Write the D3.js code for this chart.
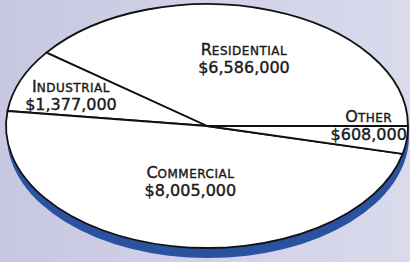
<!DOCTYPE html>
<html>
<head>
<meta charset="utf-8">
<script src="https://cdn.jsdelivr.net/npm/d3@7"></script>
<style>
  html, body { margin: 0; padding: 0; background: #d0d0e6; }
  svg { display: block; }
  .lbl { font-family: "DejaVu Sans", sans-serif; fill: #1a1a1a; stroke: #1a1a1a; stroke-width: 0.4px; text-anchor: middle; }
</style>
</head>
<body>
<svg id="pie" width="410" height="262"></svg>
<script>
"use strict";

//Chart data
var categories = ["Residential", "Industrial", "Commercial", "Other"];
var values = [6586000, 1377000, 8005000, 608000];
var valueLabels = ["$6,586,000", "$1,377,000", "$8,005,000", "$608,000"];

//Label placement: fraction of radius along the slice middle, plus a vertical nudge
var labelRadius = [0.58, 0.73, 0.47, 0.81];
var labelDy = [0, 3, 0, -11];

var svg = d3.select("#pie"),
  width = +svg.attr("width"),
  height = +svg.attr("height");

//Ellipse geometry
var cx = 207, cy = 126, rx = 201, ry = 122, shadowDy = 10;

//Background gradient
var defs = svg.append("defs");
var grad = defs.append("linearGradient").attr("id", "bg").attr("x1", 0).attr("x2", 1).attr("y1", 0).attr("y2", 0);
grad.append("stop").attr("offset", "0%").attr("stop-color", "#c7c7e1");
grad.append("stop").attr("offset", "100%").attr("stop-color", "#dadaed");

svg.append("rect").attr("width", width).attr("height", height).attr("fill", "url(#bg)");

//Blue shadow under the pie
svg.append("ellipse")
  .attr("cx", cx + 1).attr("cy", cy + shadowDy)
  .attr("rx", rx).attr("ry", ry)
  .attr("fill", "#2a52a0");

//Pie goes counter-clockwise from 3 o'clock
var pie = d3.pie().sort(null)
  .startAngle(Math.PI / 2)
  .endAngle(Math.PI / 2 - 2 * Math.PI);

var arcs = pie(values);

var arc = d3.arc().innerRadius(0).outerRadius(rx);

var g = svg.append("g")
  .attr("transform", "translate(" + cx + "," + cy + ") scale(1," + (ry / rx) + ")");

g.selectAll("path.slice")
  .data(arcs)
  .enter().append("path")
  .attr("class", "slice")
  .attr("d", arc)
  .attr("fill", "#ffffff")
  .attr("stroke", "#111")
  .attr("stroke-width", 1.8)
  .attr("stroke-linejoin", "round")
  .attr("vector-effect", "non-scaling-stroke");

//Labels
var labels = svg.selectAll("g.label")
  .data(arcs)
  .enter().append("g")
  .attr("class", "label")
  .attr("transform", function(d, i) {
    var a = (d.startAngle + d.endAngle) / 2;
    var r = rx * labelRadius[i];
    var x = cx + r * Math.sin(a);
    var y = cy - r * Math.cos(a) * ry / rx + labelDy[i];
    return "translate(" + x + "," + y + ")";
  });

//Category names in small caps: big first letter, smaller rest
var catText = labels.append("text")
  .attr("class", "lbl")
  .attr("y", -4);
catText.append("tspan")
  .style("font-size", "16px")
  .text(function(d, i) { return categories[i].charAt(0).toUpperCase(); });
catText.append("tspan")
  .style("font-size", "12px")
  .style("letter-spacing", "0.5px")
  .text(function(d, i) { return categories[i].slice(1).toUpperCase(); });

labels.append("text")
  .attr("class", "lbl")
  .attr("y", 14)
  .style("font-size", "16px")
  .text(function(d, i) { return valueLabels[i]; });
</script>
</body>
</html>
